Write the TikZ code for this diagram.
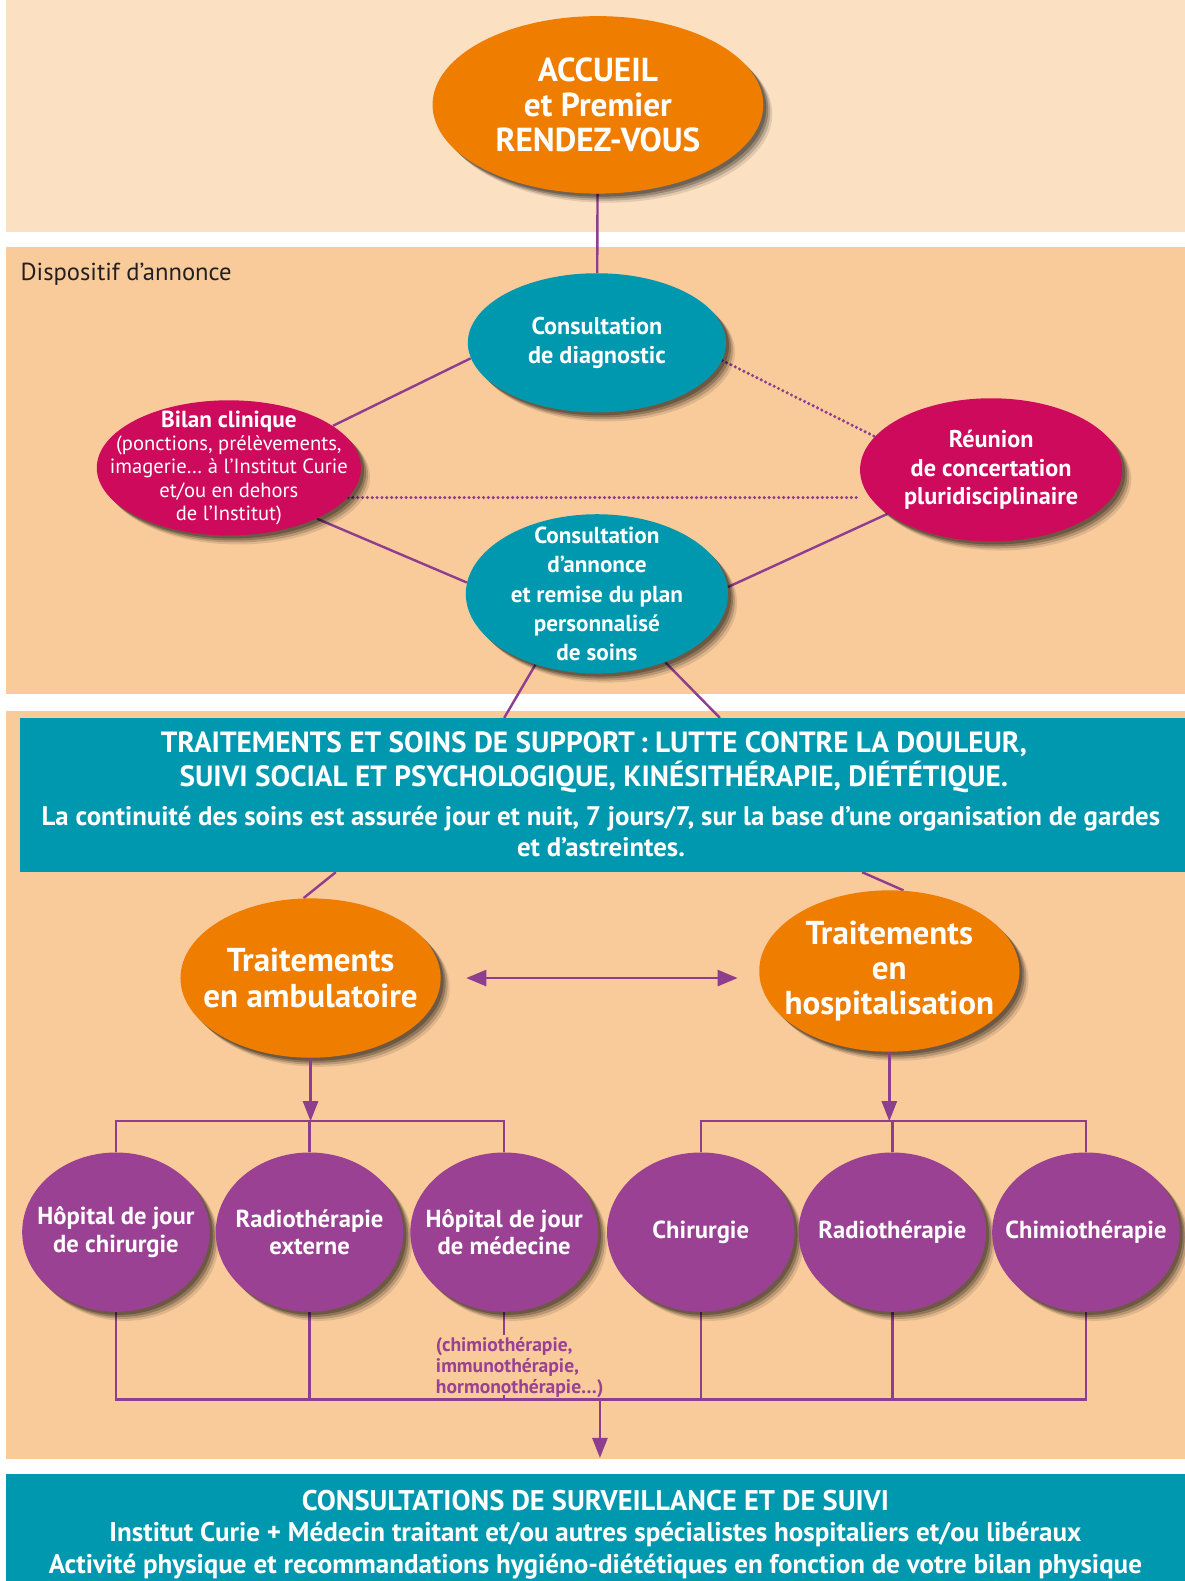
\documentclass[tikz,border=0pt]{standalone}
\usepackage{fontspec}
\setmainfont{PT Sans}
\usetikzlibrary{shapes.geometric,shadows,arrows.meta}
\definecolor{peachA}{HTML}{FCE0C2}
\definecolor{peachB}{HTML}{F9CB9B}
\definecolor{orangeC}{HTML}{EE7D00}
\definecolor{tealC}{HTML}{0098AF}
\definecolor{crimC}{HTML}{CE0A5C}
\definecolor{purpC}{HTML}{9A4193}
\definecolor{lineC}{HTML}{8E3E8E}
\definecolor{darkT}{HTML}{231F20}
\pgfdeclarelayer{back}
\pgfdeclarelayer{conn}
\pgfsetlayers{back,conn,main}
\begin{document}
\begin{tikzpicture}[x=0.5pt,y=-0.5pt,
  blob/.style={ellipse, inner sep=-30pt, text=white, align=center,
    drop shadow={shadow xshift=4.5pt,shadow yshift=-4.5pt,opacity=.10,fill=black},
    drop shadow={shadow xshift=3.5pt,shadow yshift=-3.5pt,opacity=.16,fill=black},
    drop shadow={shadow xshift=2.5pt,shadow yshift=-2.5pt,opacity=.22,fill=black},
    drop shadow={shadow xshift=1.5pt,shadow yshift=-1.5pt,opacity=.25,fill=black}},
  orangeblob/.style={blob, fill=orangeC},
  tealblob/.style={blob, fill=tealC},
  crimblob/.style={blob, fill=crimC},
  purpblob/.style={blob, fill=purpC, minimum width=93pt, minimum height=79pt,
    font=\fontsize{12.2}{13.5}\selectfont\bfseries},
  conn/.style={draw=lineC, line width=1.2pt},
  dotline/.style={draw=lineC, line width=1.7pt, line cap=round, dash pattern=on 0pt off 2.4pt},
  arrowline/.style={conn, -{Triangle[width=7.5pt,length=10pt]}},
  dblarrow/.style={conn, {Triangle[width=8pt,length=10pt]}-{Triangle[width=8pt,length=10pt]}},
  whitetext/.style={text=white, align=center, inner sep=0pt}
]
\useasboundingbox (0,0) rectangle (1175,1568);
% ---------- background bands
\begin{pgfonlayer}{back}
  \fill[white] (0,0) rectangle (1175,1568);
  \fill[peachA] (6,0) rectangle (1175,230);
  \fill[peachB] (6,245) rectangle (1175,688);
  \fill[peachB] (6,705) rectangle (1175,1447);
\end{pgfonlayer}

% ---------- boxes
\node[fill=tealC, minimum width=577.5pt, minimum height=76.5pt, inner sep=0pt] (soins) at (597.5,788.5) {};
\node[whitetext, font=\fontsize{14.5}{17}\selectfont\bfseries] (soinsT) at (589,756)
  {TRAITEMENTS ET SOINS DE SUPPORT\,: LUTTE CONTRE LA DOULEUR,\\SUIVI SOCIAL ET PSYCHOLOGIQUE, KINÉSITHÉRAPIE, DIÉTÉTIQUE.};
\node[whitetext, font=\fontsize{13.3}{15.5}\selectfont\bfseries] (soinsS) at (596,825)
  {La continuité des soins est assurée jour et nuit, 7 jours/7, sur la base d’une organisation de gardes\\et d’astreintes.};

\node[fill=tealC, minimum width=584.5pt, minimum height=53pt, inner sep=0pt] (suivi) at (590.5,1515) {};
\node[whitetext, font=\fontsize{13.4}{15.7}\selectfont\bfseries] (suiviT) at (590.5,1522)
  {{\fontsize{14.1}{15.7}\selectfont CONSULTATIONS DE SURVEILLANCE ET DE SUIVI}\\Institut Curie + Médecin traitant et/ou autres spécialistes hospitaliers et/ou libéraux\\Activité physique et recommandations hygiéno-diététiques en fonction de votre bilan physique};

\node[anchor=west, inner sep=0pt, text=darkT, font=\fontsize{12.2}{13}\selectfont] (dispo) at (20,272) {Dispositif d’annonce};

% ---------- ellipses
\node[orangeblob, minimum width=164pt, minimum height=88pt, font=\fontsize{16.5}{17.5}\selectfont\bfseries] (accueil) at (593,104)
  {ACCUEIL\\et Premier\\RENDEZ-VOUS};
\node[tealblob, minimum width=128pt, minimum height=69pt, font=\fontsize{12}{14.5}\selectfont\bfseries] (diag) at (592,340)
  {Consultation\\de diagnostic};
\node[crimblob, minimum width=131pt, minimum height=67pt, font=\fontsize{10.2}{11.5}\selectfont] (bilan) at (227,464)
  {{\fontsize{11.5}{11.5}\selectfont\bfseries Bilan clinique}\\(ponctions, prélèvements,\\imagerie… à l’Institut Curie\\et/ou en dehors\\de l’Institut)};
\node[crimblob, minimum width=130pt, minimum height=71pt, font=\fontsize{12}{14.25}\selectfont\bfseries] (reunion) at (983,466)
  {Réunion\\de concertation\\pluridisciplinaire};
\node[tealblob, minimum width=130pt, minimum height=79pt, font=\fontsize{11.5}{14.5}\selectfont\bfseries] (annonce) at (592,589)
  {Consultation\\d’annonce\\et remise du plan\\personnalisé\\de soins};
\node[orangeblob, minimum width=129pt, minimum height=79pt, font=\fontsize{16.4}{17.5}\selectfont\bfseries] (amb) at (308,970)
  {Traitements\\en ambulatoire};
\node[orangeblob, minimum width=129pt, minimum height=80pt, font=\fontsize{16.4}{17.5}\selectfont\bfseries] (hosp) at (882,963)
  {Traitements\\en\\hospitalisation};

\node[purpblob] (c1) at (115,1222) {Hôpital de jour\\de chirurgie};
\node[purpblob] (c2) at (307,1222) {Radiothérapie\\externe};
\node[purpblob] (c3) at (500,1222) {Hôpital de jour\\de médecine};
\node[purpblob] (c4) at (695,1222) {Chirurgie};
\node[purpblob] (c5) at (885,1222) {Radiothérapie};
\node[purpblob] (c6) at (1077,1222) {Chimiothérapie};

\node[anchor=north west, inner sep=0pt, align=left, text=purpC, font=\fontsize{9.7}{10.3}\selectfont\bfseries] (note) at (432,1326)
  {(chimiothérapie,\\immunothérapie,\\hormonothérapie…)};

% ---------- coordinates
\coordinate (brA) at (0,1112);
\coordinate (brB) at (0,1388);
\coordinate (sA) at (500,712);
\coordinate (sB) at (714,712);
\coordinate (sC) at (333,865);
\coordinate (sD) at (855,865);
\coordinate (noteTop) at (500,1324);
\coordinate (noteBot) at (500,1384);
\coordinate (arrEnd) at (595,1446);

% ---------- connectors
\begin{pgfonlayer}{conn}
  \draw[conn] (accueil) -- (diag);
  \draw[conn] (diag.187) -- (bilan.22);
  \draw[conn] (bilan.330) -- (annonce.175);
  \draw[conn] (annonce.3) -- (reunion.203);
  \draw[dotline] (diag.352) -- (reunion.164);
  \draw[dotline] (bilan.346) -- (bilan.346 -| reunion.west);
  \draw[conn] (annonce.229) -- (sA);
  \draw[conn] (annonce.315) -- (sB);
  \draw[conn] (sC) -- (amb.95);
  \draw[conn] (sD) -- (hosp.80);
  % brackets top
  \draw[conn] (c1) -- (c1 |- brA) -- (c3 |- brA) -- (c3);
  \draw[conn] (c2 |- brA) -- (c2);
  \draw[conn] (c4) -- (c4 |- brA) -- (c6 |- brA) -- (c6);
  \draw[conn] (c5 |- brA) -- (c5);
  % brackets bottom
  \draw[conn] (c1) -- (c1 |- brB) -- (c6 |- brB) -- (c6);
  \draw[conn] (c2) -- (c2 |- brB);
  \draw[conn] (c4) -- (c4 |- brB);
  \draw[conn] (c5) -- (c5 |- brB);
  \draw[conn] (c3) -- (noteTop);
  \draw[conn] (noteBot) -- (noteBot |- brB);
\end{pgfonlayer}
\draw[arrowline] (amb.south) -- (amb.south |- brA);
\draw[arrowline] (hosp.south) -- (hosp.south |- brA);
\draw[arrowline] (brB -| arrEnd) -- (arrEnd);
\draw[dblarrow] ([xshift=12.5pt]amb.east) -- ([xshift=-10.5pt]amb.east -| hosp.west);
\end{tikzpicture}
\end{document}
